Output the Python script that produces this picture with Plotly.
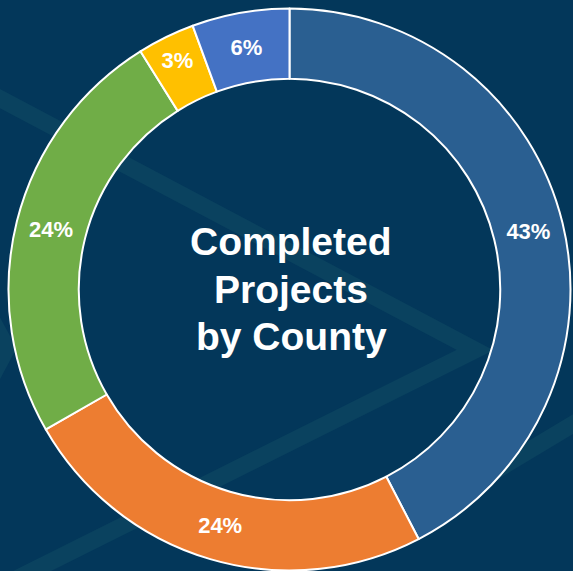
import plotly.graph_objects as go

W, H = 573, 571

# ---- data ----
counties = ["County A", "County B", "County C", "County D", "County E"]
shares = [42.4, 24.3, 24.4, 3.3, 5.6]
share_labels = ["43%", "24%", "24%", "3%", "6%"]
slice_colors = ["#2A5F91", "#ED7D31", "#70AD47", "#FFC000", "#4472C4"]
title_lines = ["Completed", "Projects", "by County"]

BG = "#03375A"
BAND = "#0A425F"


def px(x):
    return x / W


def py(y):
    return 1 - y / H


def path(points):
    return "M " + " L ".join(f"{px(x):.5f},{py(y):.5f}" for x, y in points)


fig = go.Figure(
    go.Pie(
        labels=counties,
        values=shares,
        text=share_labels,
        textinfo="text",
        hole=0.75,
        sort=False,
        direction="clockwise",
        rotation=0,
        textposition="inside",
        insidetextorientation="horizontal",
        insidetextfont=dict(
            family="Liberation Sans Narrow, Arial Narrow, Liberation Sans, Arial, sans-serif",
            size=22,
            color="white",
            weight="bold",
        ),
        marker=dict(colors=slice_colors, line=dict(color="white", width=2)),
        domain=dict(x=[px(8.5), px(570.5)], y=[py(570.5), py(8.5)]),
        showlegend=False,
        hoverinfo="label+text",
    )
)

shapes = []
# decorative background bands
band_paths = [
    [(-20, 88), (475, 350), (-20, 597)],
    [(600, 408), (360, 552)],
    [(-40, 262), (7, 348), (-40, 436)],
]
for pts in band_paths:
    shapes.append(
        dict(
            type="path",
            path=path(pts),
            xref="paper",
            yref="paper",
            line=dict(color=BAND, width=17),
            layer="below",
        )
    )

title_y = [241, 289, 336]
annotations = []
for txt, yy in zip(title_lines, title_y):
    annotations.append(
        dict(
            text=txt,
            x=px(291),
            y=py(yy),
            xref="paper",
            yref="paper",
            xanchor="center",
            yanchor="middle",
            showarrow=False,
            font=dict(family="Liberation Sans, Arial, sans-serif", size=39, color="white", weight="bold"),
        )
    )

fig.update_layout(
    width=W,
    height=H,
    margin=dict(l=0, r=0, t=0, b=0),
    paper_bgcolor=BG,
    plot_bgcolor=BG,
    shapes=shapes,
    annotations=annotations,
)

fig.write_html("out.html")
